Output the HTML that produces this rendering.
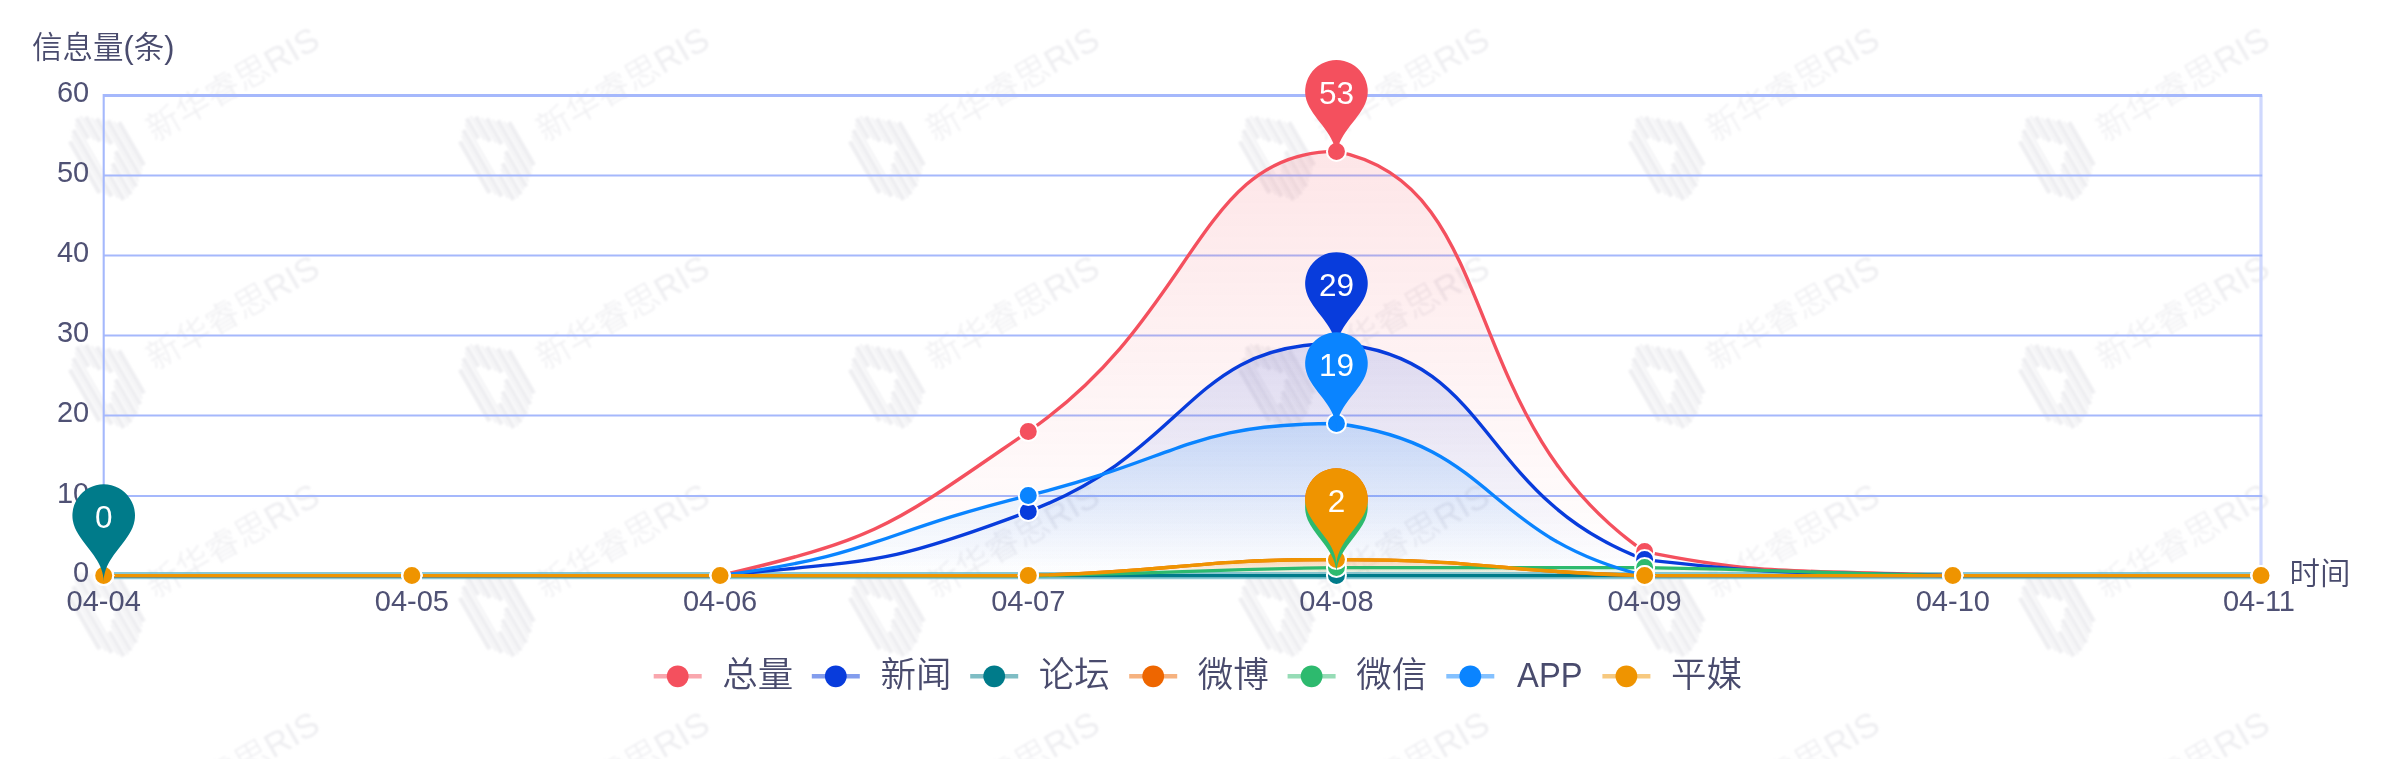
<!DOCTYPE html>
<html lang="zh-CN"><head><meta charset="utf-8"><title>信息量走势</title>
<style>html,body{margin:0;padding:0;background:#fff;overflow:hidden}svg{display:block;filter:blur(0.55px)}text{font-family:'Liberation Sans','Noto Sans CJK SC',sans-serif}.ax{font-size:29px;fill:#4f5174}.nm{font-size:30.5px;font-weight:350;fill:#494b6d}.lg{font-size:35.5px;font-weight:350;fill:#494b6d}.pl{font-size:31.5px;fill:#fff;text-anchor:middle}.wm{font-size:34px;fill:#eeeef1;font-weight:300}</style></head><body>
<svg width="2393" height="759" viewBox="0 0 2393 759">
<rect width="2393" height="759" fill="#fff"/>
<defs>
<linearGradient id="g0" gradientUnits="userSpaceOnUse" x1="0" y1="151.42" x2="0" y2="575.6"><stop offset="0" stop-color="#f4505e" stop-opacity="0.145"/><stop offset="1" stop-color="#f4505e" stop-opacity="0"/></linearGradient>
<linearGradient id="g1" gradientUnits="userSpaceOnUse" x1="0" y1="343.5" x2="0" y2="575.6"><stop offset="0" stop-color="#083cdc" stop-opacity="0.135"/><stop offset="1" stop-color="#083cdc" stop-opacity="0"/></linearGradient>
<linearGradient id="g2" gradientUnits="userSpaceOnUse" x1="0" y1="575.6" x2="0" y2="575.6"><stop offset="0" stop-color="#007b8a" stop-opacity="0.16"/><stop offset="1" stop-color="#007b8a" stop-opacity="0"/></linearGradient>
<linearGradient id="g3" gradientUnits="userSpaceOnUse" x1="0" y1="559.59" x2="0" y2="575.6"><stop offset="0" stop-color="#ee6600" stop-opacity="0.16"/><stop offset="1" stop-color="#ee6600" stop-opacity="0"/></linearGradient>
<linearGradient id="g4" gradientUnits="userSpaceOnUse" x1="0" y1="567.6" x2="0" y2="575.6"><stop offset="0" stop-color="#2dba6e" stop-opacity="0.16"/><stop offset="1" stop-color="#2dba6e" stop-opacity="0"/></linearGradient>
<linearGradient id="g5" gradientUnits="userSpaceOnUse" x1="0" y1="423.54" x2="0" y2="575.6"><stop offset="0" stop-color="#0a84ff" stop-opacity="0.16"/><stop offset="1" stop-color="#0a84ff" stop-opacity="0"/></linearGradient>
<linearGradient id="g6" gradientUnits="userSpaceOnUse" x1="0" y1="559.59" x2="0" y2="575.6"><stop offset="0" stop-color="#ef9400" stop-opacity="0.16"/><stop offset="1" stop-color="#ef9400" stop-opacity="0"/></linearGradient>
<filter id="wb" x="-5%" y="-5%" width="110%" height="110%"><feGaussianBlur stdDeviation="0.9"/></filter>
</defs>
<g id="wm" filter="url(#wb)">
<g transform="translate(-283.5 -71.6) rotate(-30)"><g fill="#eeeef1"><rect x="-26.3" y="-31.36" width="4.6" height="59.32"/><rect x="-20.12" y="-35.73" width="1.5" height="68.5"/><rect x="-17.65" y="-39.54" width="4.6" height="76.49"/><rect x="-11.47" y="-43.92" width="1.5" height="85.67"/><rect x="-9" y="-47.73" width="4.6" height="22.99"/><rect x="-9" y="17.6" width="4.6" height="28.33"/><rect x="-2.82" y="-48.16" width="1.5" height="27.83"/><rect x="-2.82" y="12.93" width="1.5" height="33.58"/><rect x="-0.35" y="-44.84" width="4.6" height="28.33"/><rect x="-0.35" y="8.87" width="4.6" height="35.81"/><rect x="5.83" y="-41.02" width="1.5" height="28.91"/><rect x="5.83" y="4.2" width="1.5" height="38.36"/><rect x="8.3" y="-37.7" width="4.6" height="29.41"/><rect x="8.3" y="0.14" width="4.6" height="40.59"/><rect x="14.48" y="-33.88" width="1.5" height="71.19"/><rect x="16.95" y="-30.56" width="4.6" height="64.3"/><rect x="23.12" y="-26.74" width="1.5" height="56.37"/><rect x="25.6" y="-23.41" width="4.6" height="49.48"/></g><text class="wm" x="49" y="12">新华睿思RIS</text></g>
<g transform="translate(106.5 -71.6) rotate(-30)"><g fill="#eeeef1"><rect x="-26.3" y="-31.36" width="4.6" height="59.32"/><rect x="-20.12" y="-35.73" width="1.5" height="68.5"/><rect x="-17.65" y="-39.54" width="4.6" height="76.49"/><rect x="-11.47" y="-43.92" width="1.5" height="85.67"/><rect x="-9" y="-47.73" width="4.6" height="22.99"/><rect x="-9" y="17.6" width="4.6" height="28.33"/><rect x="-2.82" y="-48.16" width="1.5" height="27.83"/><rect x="-2.82" y="12.93" width="1.5" height="33.58"/><rect x="-0.35" y="-44.84" width="4.6" height="28.33"/><rect x="-0.35" y="8.87" width="4.6" height="35.81"/><rect x="5.83" y="-41.02" width="1.5" height="28.91"/><rect x="5.83" y="4.2" width="1.5" height="38.36"/><rect x="8.3" y="-37.7" width="4.6" height="29.41"/><rect x="8.3" y="0.14" width="4.6" height="40.59"/><rect x="14.48" y="-33.88" width="1.5" height="71.19"/><rect x="16.95" y="-30.56" width="4.6" height="64.3"/><rect x="23.12" y="-26.74" width="1.5" height="56.37"/><rect x="25.6" y="-23.41" width="4.6" height="49.48"/></g><text class="wm" x="49" y="12">新华睿思RIS</text></g>
<g transform="translate(496.5 -71.6) rotate(-30)"><g fill="#eeeef1"><rect x="-26.3" y="-31.36" width="4.6" height="59.32"/><rect x="-20.12" y="-35.73" width="1.5" height="68.5"/><rect x="-17.65" y="-39.54" width="4.6" height="76.49"/><rect x="-11.47" y="-43.92" width="1.5" height="85.67"/><rect x="-9" y="-47.73" width="4.6" height="22.99"/><rect x="-9" y="17.6" width="4.6" height="28.33"/><rect x="-2.82" y="-48.16" width="1.5" height="27.83"/><rect x="-2.82" y="12.93" width="1.5" height="33.58"/><rect x="-0.35" y="-44.84" width="4.6" height="28.33"/><rect x="-0.35" y="8.87" width="4.6" height="35.81"/><rect x="5.83" y="-41.02" width="1.5" height="28.91"/><rect x="5.83" y="4.2" width="1.5" height="38.36"/><rect x="8.3" y="-37.7" width="4.6" height="29.41"/><rect x="8.3" y="0.14" width="4.6" height="40.59"/><rect x="14.48" y="-33.88" width="1.5" height="71.19"/><rect x="16.95" y="-30.56" width="4.6" height="64.3"/><rect x="23.12" y="-26.74" width="1.5" height="56.37"/><rect x="25.6" y="-23.41" width="4.6" height="49.48"/></g><text class="wm" x="49" y="12">新华睿思RIS</text></g>
<g transform="translate(886.5 -71.6) rotate(-30)"><g fill="#eeeef1"><rect x="-26.3" y="-31.36" width="4.6" height="59.32"/><rect x="-20.12" y="-35.73" width="1.5" height="68.5"/><rect x="-17.65" y="-39.54" width="4.6" height="76.49"/><rect x="-11.47" y="-43.92" width="1.5" height="85.67"/><rect x="-9" y="-47.73" width="4.6" height="22.99"/><rect x="-9" y="17.6" width="4.6" height="28.33"/><rect x="-2.82" y="-48.16" width="1.5" height="27.83"/><rect x="-2.82" y="12.93" width="1.5" height="33.58"/><rect x="-0.35" y="-44.84" width="4.6" height="28.33"/><rect x="-0.35" y="8.87" width="4.6" height="35.81"/><rect x="5.83" y="-41.02" width="1.5" height="28.91"/><rect x="5.83" y="4.2" width="1.5" height="38.36"/><rect x="8.3" y="-37.7" width="4.6" height="29.41"/><rect x="8.3" y="0.14" width="4.6" height="40.59"/><rect x="14.48" y="-33.88" width="1.5" height="71.19"/><rect x="16.95" y="-30.56" width="4.6" height="64.3"/><rect x="23.12" y="-26.74" width="1.5" height="56.37"/><rect x="25.6" y="-23.41" width="4.6" height="49.48"/></g><text class="wm" x="49" y="12">新华睿思RIS</text></g>
<g transform="translate(1276.5 -71.6) rotate(-30)"><g fill="#eeeef1"><rect x="-26.3" y="-31.36" width="4.6" height="59.32"/><rect x="-20.12" y="-35.73" width="1.5" height="68.5"/><rect x="-17.65" y="-39.54" width="4.6" height="76.49"/><rect x="-11.47" y="-43.92" width="1.5" height="85.67"/><rect x="-9" y="-47.73" width="4.6" height="22.99"/><rect x="-9" y="17.6" width="4.6" height="28.33"/><rect x="-2.82" y="-48.16" width="1.5" height="27.83"/><rect x="-2.82" y="12.93" width="1.5" height="33.58"/><rect x="-0.35" y="-44.84" width="4.6" height="28.33"/><rect x="-0.35" y="8.87" width="4.6" height="35.81"/><rect x="5.83" y="-41.02" width="1.5" height="28.91"/><rect x="5.83" y="4.2" width="1.5" height="38.36"/><rect x="8.3" y="-37.7" width="4.6" height="29.41"/><rect x="8.3" y="0.14" width="4.6" height="40.59"/><rect x="14.48" y="-33.88" width="1.5" height="71.19"/><rect x="16.95" y="-30.56" width="4.6" height="64.3"/><rect x="23.12" y="-26.74" width="1.5" height="56.37"/><rect x="25.6" y="-23.41" width="4.6" height="49.48"/></g><text class="wm" x="49" y="12">新华睿思RIS</text></g>
<g transform="translate(1666.5 -71.6) rotate(-30)"><g fill="#eeeef1"><rect x="-26.3" y="-31.36" width="4.6" height="59.32"/><rect x="-20.12" y="-35.73" width="1.5" height="68.5"/><rect x="-17.65" y="-39.54" width="4.6" height="76.49"/><rect x="-11.47" y="-43.92" width="1.5" height="85.67"/><rect x="-9" y="-47.73" width="4.6" height="22.99"/><rect x="-9" y="17.6" width="4.6" height="28.33"/><rect x="-2.82" y="-48.16" width="1.5" height="27.83"/><rect x="-2.82" y="12.93" width="1.5" height="33.58"/><rect x="-0.35" y="-44.84" width="4.6" height="28.33"/><rect x="-0.35" y="8.87" width="4.6" height="35.81"/><rect x="5.83" y="-41.02" width="1.5" height="28.91"/><rect x="5.83" y="4.2" width="1.5" height="38.36"/><rect x="8.3" y="-37.7" width="4.6" height="29.41"/><rect x="8.3" y="0.14" width="4.6" height="40.59"/><rect x="14.48" y="-33.88" width="1.5" height="71.19"/><rect x="16.95" y="-30.56" width="4.6" height="64.3"/><rect x="23.12" y="-26.74" width="1.5" height="56.37"/><rect x="25.6" y="-23.41" width="4.6" height="49.48"/></g><text class="wm" x="49" y="12">新华睿思RIS</text></g>
<g transform="translate(2056.5 -71.6) rotate(-30)"><g fill="#eeeef1"><rect x="-26.3" y="-31.36" width="4.6" height="59.32"/><rect x="-20.12" y="-35.73" width="1.5" height="68.5"/><rect x="-17.65" y="-39.54" width="4.6" height="76.49"/><rect x="-11.47" y="-43.92" width="1.5" height="85.67"/><rect x="-9" y="-47.73" width="4.6" height="22.99"/><rect x="-9" y="17.6" width="4.6" height="28.33"/><rect x="-2.82" y="-48.16" width="1.5" height="27.83"/><rect x="-2.82" y="12.93" width="1.5" height="33.58"/><rect x="-0.35" y="-44.84" width="4.6" height="28.33"/><rect x="-0.35" y="8.87" width="4.6" height="35.81"/><rect x="5.83" y="-41.02" width="1.5" height="28.91"/><rect x="5.83" y="4.2" width="1.5" height="38.36"/><rect x="8.3" y="-37.7" width="4.6" height="29.41"/><rect x="8.3" y="0.14" width="4.6" height="40.59"/><rect x="14.48" y="-33.88" width="1.5" height="71.19"/><rect x="16.95" y="-30.56" width="4.6" height="64.3"/><rect x="23.12" y="-26.74" width="1.5" height="56.37"/><rect x="25.6" y="-23.41" width="4.6" height="49.48"/></g><text class="wm" x="49" y="12">新华睿思RIS</text></g>
<g transform="translate(2446.5 -71.6) rotate(-30)"><g fill="#eeeef1"><rect x="-26.3" y="-31.36" width="4.6" height="59.32"/><rect x="-20.12" y="-35.73" width="1.5" height="68.5"/><rect x="-17.65" y="-39.54" width="4.6" height="76.49"/><rect x="-11.47" y="-43.92" width="1.5" height="85.67"/><rect x="-9" y="-47.73" width="4.6" height="22.99"/><rect x="-9" y="17.6" width="4.6" height="28.33"/><rect x="-2.82" y="-48.16" width="1.5" height="27.83"/><rect x="-2.82" y="12.93" width="1.5" height="33.58"/><rect x="-0.35" y="-44.84" width="4.6" height="28.33"/><rect x="-0.35" y="8.87" width="4.6" height="35.81"/><rect x="5.83" y="-41.02" width="1.5" height="28.91"/><rect x="5.83" y="4.2" width="1.5" height="38.36"/><rect x="8.3" y="-37.7" width="4.6" height="29.41"/><rect x="8.3" y="0.14" width="4.6" height="40.59"/><rect x="14.48" y="-33.88" width="1.5" height="71.19"/><rect x="16.95" y="-30.56" width="4.6" height="64.3"/><rect x="23.12" y="-26.74" width="1.5" height="56.37"/><rect x="25.6" y="-23.41" width="4.6" height="49.48"/></g><text class="wm" x="49" y="12">新华睿思RIS</text></g>
<g transform="translate(-283.5 156.6) rotate(-30)"><g fill="#eeeef1"><rect x="-26.3" y="-31.36" width="4.6" height="59.32"/><rect x="-20.12" y="-35.73" width="1.5" height="68.5"/><rect x="-17.65" y="-39.54" width="4.6" height="76.49"/><rect x="-11.47" y="-43.92" width="1.5" height="85.67"/><rect x="-9" y="-47.73" width="4.6" height="22.99"/><rect x="-9" y="17.6" width="4.6" height="28.33"/><rect x="-2.82" y="-48.16" width="1.5" height="27.83"/><rect x="-2.82" y="12.93" width="1.5" height="33.58"/><rect x="-0.35" y="-44.84" width="4.6" height="28.33"/><rect x="-0.35" y="8.87" width="4.6" height="35.81"/><rect x="5.83" y="-41.02" width="1.5" height="28.91"/><rect x="5.83" y="4.2" width="1.5" height="38.36"/><rect x="8.3" y="-37.7" width="4.6" height="29.41"/><rect x="8.3" y="0.14" width="4.6" height="40.59"/><rect x="14.48" y="-33.88" width="1.5" height="71.19"/><rect x="16.95" y="-30.56" width="4.6" height="64.3"/><rect x="23.12" y="-26.74" width="1.5" height="56.37"/><rect x="25.6" y="-23.41" width="4.6" height="49.48"/></g><text class="wm" x="49" y="12">新华睿思RIS</text></g>
<g transform="translate(106.5 156.6) rotate(-30)"><g fill="#eeeef1"><rect x="-26.3" y="-31.36" width="4.6" height="59.32"/><rect x="-20.12" y="-35.73" width="1.5" height="68.5"/><rect x="-17.65" y="-39.54" width="4.6" height="76.49"/><rect x="-11.47" y="-43.92" width="1.5" height="85.67"/><rect x="-9" y="-47.73" width="4.6" height="22.99"/><rect x="-9" y="17.6" width="4.6" height="28.33"/><rect x="-2.82" y="-48.16" width="1.5" height="27.83"/><rect x="-2.82" y="12.93" width="1.5" height="33.58"/><rect x="-0.35" y="-44.84" width="4.6" height="28.33"/><rect x="-0.35" y="8.87" width="4.6" height="35.81"/><rect x="5.83" y="-41.02" width="1.5" height="28.91"/><rect x="5.83" y="4.2" width="1.5" height="38.36"/><rect x="8.3" y="-37.7" width="4.6" height="29.41"/><rect x="8.3" y="0.14" width="4.6" height="40.59"/><rect x="14.48" y="-33.88" width="1.5" height="71.19"/><rect x="16.95" y="-30.56" width="4.6" height="64.3"/><rect x="23.12" y="-26.74" width="1.5" height="56.37"/><rect x="25.6" y="-23.41" width="4.6" height="49.48"/></g><text class="wm" x="49" y="12">新华睿思RIS</text></g>
<g transform="translate(496.5 156.6) rotate(-30)"><g fill="#eeeef1"><rect x="-26.3" y="-31.36" width="4.6" height="59.32"/><rect x="-20.12" y="-35.73" width="1.5" height="68.5"/><rect x="-17.65" y="-39.54" width="4.6" height="76.49"/><rect x="-11.47" y="-43.92" width="1.5" height="85.67"/><rect x="-9" y="-47.73" width="4.6" height="22.99"/><rect x="-9" y="17.6" width="4.6" height="28.33"/><rect x="-2.82" y="-48.16" width="1.5" height="27.83"/><rect x="-2.82" y="12.93" width="1.5" height="33.58"/><rect x="-0.35" y="-44.84" width="4.6" height="28.33"/><rect x="-0.35" y="8.87" width="4.6" height="35.81"/><rect x="5.83" y="-41.02" width="1.5" height="28.91"/><rect x="5.83" y="4.2" width="1.5" height="38.36"/><rect x="8.3" y="-37.7" width="4.6" height="29.41"/><rect x="8.3" y="0.14" width="4.6" height="40.59"/><rect x="14.48" y="-33.88" width="1.5" height="71.19"/><rect x="16.95" y="-30.56" width="4.6" height="64.3"/><rect x="23.12" y="-26.74" width="1.5" height="56.37"/><rect x="25.6" y="-23.41" width="4.6" height="49.48"/></g><text class="wm" x="49" y="12">新华睿思RIS</text></g>
<g transform="translate(886.5 156.6) rotate(-30)"><g fill="#eeeef1"><rect x="-26.3" y="-31.36" width="4.6" height="59.32"/><rect x="-20.12" y="-35.73" width="1.5" height="68.5"/><rect x="-17.65" y="-39.54" width="4.6" height="76.49"/><rect x="-11.47" y="-43.92" width="1.5" height="85.67"/><rect x="-9" y="-47.73" width="4.6" height="22.99"/><rect x="-9" y="17.6" width="4.6" height="28.33"/><rect x="-2.82" y="-48.16" width="1.5" height="27.83"/><rect x="-2.82" y="12.93" width="1.5" height="33.58"/><rect x="-0.35" y="-44.84" width="4.6" height="28.33"/><rect x="-0.35" y="8.87" width="4.6" height="35.81"/><rect x="5.83" y="-41.02" width="1.5" height="28.91"/><rect x="5.83" y="4.2" width="1.5" height="38.36"/><rect x="8.3" y="-37.7" width="4.6" height="29.41"/><rect x="8.3" y="0.14" width="4.6" height="40.59"/><rect x="14.48" y="-33.88" width="1.5" height="71.19"/><rect x="16.95" y="-30.56" width="4.6" height="64.3"/><rect x="23.12" y="-26.74" width="1.5" height="56.37"/><rect x="25.6" y="-23.41" width="4.6" height="49.48"/></g><text class="wm" x="49" y="12">新华睿思RIS</text></g>
<g transform="translate(1276.5 156.6) rotate(-30)"><g fill="#eeeef1"><rect x="-26.3" y="-31.36" width="4.6" height="59.32"/><rect x="-20.12" y="-35.73" width="1.5" height="68.5"/><rect x="-17.65" y="-39.54" width="4.6" height="76.49"/><rect x="-11.47" y="-43.92" width="1.5" height="85.67"/><rect x="-9" y="-47.73" width="4.6" height="22.99"/><rect x="-9" y="17.6" width="4.6" height="28.33"/><rect x="-2.82" y="-48.16" width="1.5" height="27.83"/><rect x="-2.82" y="12.93" width="1.5" height="33.58"/><rect x="-0.35" y="-44.84" width="4.6" height="28.33"/><rect x="-0.35" y="8.87" width="4.6" height="35.81"/><rect x="5.83" y="-41.02" width="1.5" height="28.91"/><rect x="5.83" y="4.2" width="1.5" height="38.36"/><rect x="8.3" y="-37.7" width="4.6" height="29.41"/><rect x="8.3" y="0.14" width="4.6" height="40.59"/><rect x="14.48" y="-33.88" width="1.5" height="71.19"/><rect x="16.95" y="-30.56" width="4.6" height="64.3"/><rect x="23.12" y="-26.74" width="1.5" height="56.37"/><rect x="25.6" y="-23.41" width="4.6" height="49.48"/></g><text class="wm" x="49" y="12">新华睿思RIS</text></g>
<g transform="translate(1666.5 156.6) rotate(-30)"><g fill="#eeeef1"><rect x="-26.3" y="-31.36" width="4.6" height="59.32"/><rect x="-20.12" y="-35.73" width="1.5" height="68.5"/><rect x="-17.65" y="-39.54" width="4.6" height="76.49"/><rect x="-11.47" y="-43.92" width="1.5" height="85.67"/><rect x="-9" y="-47.73" width="4.6" height="22.99"/><rect x="-9" y="17.6" width="4.6" height="28.33"/><rect x="-2.82" y="-48.16" width="1.5" height="27.83"/><rect x="-2.82" y="12.93" width="1.5" height="33.58"/><rect x="-0.35" y="-44.84" width="4.6" height="28.33"/><rect x="-0.35" y="8.87" width="4.6" height="35.81"/><rect x="5.83" y="-41.02" width="1.5" height="28.91"/><rect x="5.83" y="4.2" width="1.5" height="38.36"/><rect x="8.3" y="-37.7" width="4.6" height="29.41"/><rect x="8.3" y="0.14" width="4.6" height="40.59"/><rect x="14.48" y="-33.88" width="1.5" height="71.19"/><rect x="16.95" y="-30.56" width="4.6" height="64.3"/><rect x="23.12" y="-26.74" width="1.5" height="56.37"/><rect x="25.6" y="-23.41" width="4.6" height="49.48"/></g><text class="wm" x="49" y="12">新华睿思RIS</text></g>
<g transform="translate(2056.5 156.6) rotate(-30)"><g fill="#eeeef1"><rect x="-26.3" y="-31.36" width="4.6" height="59.32"/><rect x="-20.12" y="-35.73" width="1.5" height="68.5"/><rect x="-17.65" y="-39.54" width="4.6" height="76.49"/><rect x="-11.47" y="-43.92" width="1.5" height="85.67"/><rect x="-9" y="-47.73" width="4.6" height="22.99"/><rect x="-9" y="17.6" width="4.6" height="28.33"/><rect x="-2.82" y="-48.16" width="1.5" height="27.83"/><rect x="-2.82" y="12.93" width="1.5" height="33.58"/><rect x="-0.35" y="-44.84" width="4.6" height="28.33"/><rect x="-0.35" y="8.87" width="4.6" height="35.81"/><rect x="5.83" y="-41.02" width="1.5" height="28.91"/><rect x="5.83" y="4.2" width="1.5" height="38.36"/><rect x="8.3" y="-37.7" width="4.6" height="29.41"/><rect x="8.3" y="0.14" width="4.6" height="40.59"/><rect x="14.48" y="-33.88" width="1.5" height="71.19"/><rect x="16.95" y="-30.56" width="4.6" height="64.3"/><rect x="23.12" y="-26.74" width="1.5" height="56.37"/><rect x="25.6" y="-23.41" width="4.6" height="49.48"/></g><text class="wm" x="49" y="12">新华睿思RIS</text></g>
<g transform="translate(2446.5 156.6) rotate(-30)"><g fill="#eeeef1"><rect x="-26.3" y="-31.36" width="4.6" height="59.32"/><rect x="-20.12" y="-35.73" width="1.5" height="68.5"/><rect x="-17.65" y="-39.54" width="4.6" height="76.49"/><rect x="-11.47" y="-43.92" width="1.5" height="85.67"/><rect x="-9" y="-47.73" width="4.6" height="22.99"/><rect x="-9" y="17.6" width="4.6" height="28.33"/><rect x="-2.82" y="-48.16" width="1.5" height="27.83"/><rect x="-2.82" y="12.93" width="1.5" height="33.58"/><rect x="-0.35" y="-44.84" width="4.6" height="28.33"/><rect x="-0.35" y="8.87" width="4.6" height="35.81"/><rect x="5.83" y="-41.02" width="1.5" height="28.91"/><rect x="5.83" y="4.2" width="1.5" height="38.36"/><rect x="8.3" y="-37.7" width="4.6" height="29.41"/><rect x="8.3" y="0.14" width="4.6" height="40.59"/><rect x="14.48" y="-33.88" width="1.5" height="71.19"/><rect x="16.95" y="-30.56" width="4.6" height="64.3"/><rect x="23.12" y="-26.74" width="1.5" height="56.37"/><rect x="25.6" y="-23.41" width="4.6" height="49.48"/></g><text class="wm" x="49" y="12">新华睿思RIS</text></g>
<g transform="translate(-283.5 384.8) rotate(-30)"><g fill="#eeeef1"><rect x="-26.3" y="-31.36" width="4.6" height="59.32"/><rect x="-20.12" y="-35.73" width="1.5" height="68.5"/><rect x="-17.65" y="-39.54" width="4.6" height="76.49"/><rect x="-11.47" y="-43.92" width="1.5" height="85.67"/><rect x="-9" y="-47.73" width="4.6" height="22.99"/><rect x="-9" y="17.6" width="4.6" height="28.33"/><rect x="-2.82" y="-48.16" width="1.5" height="27.83"/><rect x="-2.82" y="12.93" width="1.5" height="33.58"/><rect x="-0.35" y="-44.84" width="4.6" height="28.33"/><rect x="-0.35" y="8.87" width="4.6" height="35.81"/><rect x="5.83" y="-41.02" width="1.5" height="28.91"/><rect x="5.83" y="4.2" width="1.5" height="38.36"/><rect x="8.3" y="-37.7" width="4.6" height="29.41"/><rect x="8.3" y="0.14" width="4.6" height="40.59"/><rect x="14.48" y="-33.88" width="1.5" height="71.19"/><rect x="16.95" y="-30.56" width="4.6" height="64.3"/><rect x="23.12" y="-26.74" width="1.5" height="56.37"/><rect x="25.6" y="-23.41" width="4.6" height="49.48"/></g><text class="wm" x="49" y="12">新华睿思RIS</text></g>
<g transform="translate(106.5 384.8) rotate(-30)"><g fill="#eeeef1"><rect x="-26.3" y="-31.36" width="4.6" height="59.32"/><rect x="-20.12" y="-35.73" width="1.5" height="68.5"/><rect x="-17.65" y="-39.54" width="4.6" height="76.49"/><rect x="-11.47" y="-43.92" width="1.5" height="85.67"/><rect x="-9" y="-47.73" width="4.6" height="22.99"/><rect x="-9" y="17.6" width="4.6" height="28.33"/><rect x="-2.82" y="-48.16" width="1.5" height="27.83"/><rect x="-2.82" y="12.93" width="1.5" height="33.58"/><rect x="-0.35" y="-44.84" width="4.6" height="28.33"/><rect x="-0.35" y="8.87" width="4.6" height="35.81"/><rect x="5.83" y="-41.02" width="1.5" height="28.91"/><rect x="5.83" y="4.2" width="1.5" height="38.36"/><rect x="8.3" y="-37.7" width="4.6" height="29.41"/><rect x="8.3" y="0.14" width="4.6" height="40.59"/><rect x="14.48" y="-33.88" width="1.5" height="71.19"/><rect x="16.95" y="-30.56" width="4.6" height="64.3"/><rect x="23.12" y="-26.74" width="1.5" height="56.37"/><rect x="25.6" y="-23.41" width="4.6" height="49.48"/></g><text class="wm" x="49" y="12">新华睿思RIS</text></g>
<g transform="translate(496.5 384.8) rotate(-30)"><g fill="#eeeef1"><rect x="-26.3" y="-31.36" width="4.6" height="59.32"/><rect x="-20.12" y="-35.73" width="1.5" height="68.5"/><rect x="-17.65" y="-39.54" width="4.6" height="76.49"/><rect x="-11.47" y="-43.92" width="1.5" height="85.67"/><rect x="-9" y="-47.73" width="4.6" height="22.99"/><rect x="-9" y="17.6" width="4.6" height="28.33"/><rect x="-2.82" y="-48.16" width="1.5" height="27.83"/><rect x="-2.82" y="12.93" width="1.5" height="33.58"/><rect x="-0.35" y="-44.84" width="4.6" height="28.33"/><rect x="-0.35" y="8.87" width="4.6" height="35.81"/><rect x="5.83" y="-41.02" width="1.5" height="28.91"/><rect x="5.83" y="4.2" width="1.5" height="38.36"/><rect x="8.3" y="-37.7" width="4.6" height="29.41"/><rect x="8.3" y="0.14" width="4.6" height="40.59"/><rect x="14.48" y="-33.88" width="1.5" height="71.19"/><rect x="16.95" y="-30.56" width="4.6" height="64.3"/><rect x="23.12" y="-26.74" width="1.5" height="56.37"/><rect x="25.6" y="-23.41" width="4.6" height="49.48"/></g><text class="wm" x="49" y="12">新华睿思RIS</text></g>
<g transform="translate(886.5 384.8) rotate(-30)"><g fill="#eeeef1"><rect x="-26.3" y="-31.36" width="4.6" height="59.32"/><rect x="-20.12" y="-35.73" width="1.5" height="68.5"/><rect x="-17.65" y="-39.54" width="4.6" height="76.49"/><rect x="-11.47" y="-43.92" width="1.5" height="85.67"/><rect x="-9" y="-47.73" width="4.6" height="22.99"/><rect x="-9" y="17.6" width="4.6" height="28.33"/><rect x="-2.82" y="-48.16" width="1.5" height="27.83"/><rect x="-2.82" y="12.93" width="1.5" height="33.58"/><rect x="-0.35" y="-44.84" width="4.6" height="28.33"/><rect x="-0.35" y="8.87" width="4.6" height="35.81"/><rect x="5.83" y="-41.02" width="1.5" height="28.91"/><rect x="5.83" y="4.2" width="1.5" height="38.36"/><rect x="8.3" y="-37.7" width="4.6" height="29.41"/><rect x="8.3" y="0.14" width="4.6" height="40.59"/><rect x="14.48" y="-33.88" width="1.5" height="71.19"/><rect x="16.95" y="-30.56" width="4.6" height="64.3"/><rect x="23.12" y="-26.74" width="1.5" height="56.37"/><rect x="25.6" y="-23.41" width="4.6" height="49.48"/></g><text class="wm" x="49" y="12">新华睿思RIS</text></g>
<g transform="translate(1276.5 384.8) rotate(-30)"><g fill="#eeeef1"><rect x="-26.3" y="-31.36" width="4.6" height="59.32"/><rect x="-20.12" y="-35.73" width="1.5" height="68.5"/><rect x="-17.65" y="-39.54" width="4.6" height="76.49"/><rect x="-11.47" y="-43.92" width="1.5" height="85.67"/><rect x="-9" y="-47.73" width="4.6" height="22.99"/><rect x="-9" y="17.6" width="4.6" height="28.33"/><rect x="-2.82" y="-48.16" width="1.5" height="27.83"/><rect x="-2.82" y="12.93" width="1.5" height="33.58"/><rect x="-0.35" y="-44.84" width="4.6" height="28.33"/><rect x="-0.35" y="8.87" width="4.6" height="35.81"/><rect x="5.83" y="-41.02" width="1.5" height="28.91"/><rect x="5.83" y="4.2" width="1.5" height="38.36"/><rect x="8.3" y="-37.7" width="4.6" height="29.41"/><rect x="8.3" y="0.14" width="4.6" height="40.59"/><rect x="14.48" y="-33.88" width="1.5" height="71.19"/><rect x="16.95" y="-30.56" width="4.6" height="64.3"/><rect x="23.12" y="-26.74" width="1.5" height="56.37"/><rect x="25.6" y="-23.41" width="4.6" height="49.48"/></g><text class="wm" x="49" y="12">新华睿思RIS</text></g>
<g transform="translate(1666.5 384.8) rotate(-30)"><g fill="#eeeef1"><rect x="-26.3" y="-31.36" width="4.6" height="59.32"/><rect x="-20.12" y="-35.73" width="1.5" height="68.5"/><rect x="-17.65" y="-39.54" width="4.6" height="76.49"/><rect x="-11.47" y="-43.92" width="1.5" height="85.67"/><rect x="-9" y="-47.73" width="4.6" height="22.99"/><rect x="-9" y="17.6" width="4.6" height="28.33"/><rect x="-2.82" y="-48.16" width="1.5" height="27.83"/><rect x="-2.82" y="12.93" width="1.5" height="33.58"/><rect x="-0.35" y="-44.84" width="4.6" height="28.33"/><rect x="-0.35" y="8.87" width="4.6" height="35.81"/><rect x="5.83" y="-41.02" width="1.5" height="28.91"/><rect x="5.83" y="4.2" width="1.5" height="38.36"/><rect x="8.3" y="-37.7" width="4.6" height="29.41"/><rect x="8.3" y="0.14" width="4.6" height="40.59"/><rect x="14.48" y="-33.88" width="1.5" height="71.19"/><rect x="16.95" y="-30.56" width="4.6" height="64.3"/><rect x="23.12" y="-26.74" width="1.5" height="56.37"/><rect x="25.6" y="-23.41" width="4.6" height="49.48"/></g><text class="wm" x="49" y="12">新华睿思RIS</text></g>
<g transform="translate(2056.5 384.8) rotate(-30)"><g fill="#eeeef1"><rect x="-26.3" y="-31.36" width="4.6" height="59.32"/><rect x="-20.12" y="-35.73" width="1.5" height="68.5"/><rect x="-17.65" y="-39.54" width="4.6" height="76.49"/><rect x="-11.47" y="-43.92" width="1.5" height="85.67"/><rect x="-9" y="-47.73" width="4.6" height="22.99"/><rect x="-9" y="17.6" width="4.6" height="28.33"/><rect x="-2.82" y="-48.16" width="1.5" height="27.83"/><rect x="-2.82" y="12.93" width="1.5" height="33.58"/><rect x="-0.35" y="-44.84" width="4.6" height="28.33"/><rect x="-0.35" y="8.87" width="4.6" height="35.81"/><rect x="5.83" y="-41.02" width="1.5" height="28.91"/><rect x="5.83" y="4.2" width="1.5" height="38.36"/><rect x="8.3" y="-37.7" width="4.6" height="29.41"/><rect x="8.3" y="0.14" width="4.6" height="40.59"/><rect x="14.48" y="-33.88" width="1.5" height="71.19"/><rect x="16.95" y="-30.56" width="4.6" height="64.3"/><rect x="23.12" y="-26.74" width="1.5" height="56.37"/><rect x="25.6" y="-23.41" width="4.6" height="49.48"/></g><text class="wm" x="49" y="12">新华睿思RIS</text></g>
<g transform="translate(2446.5 384.8) rotate(-30)"><g fill="#eeeef1"><rect x="-26.3" y="-31.36" width="4.6" height="59.32"/><rect x="-20.12" y="-35.73" width="1.5" height="68.5"/><rect x="-17.65" y="-39.54" width="4.6" height="76.49"/><rect x="-11.47" y="-43.92" width="1.5" height="85.67"/><rect x="-9" y="-47.73" width="4.6" height="22.99"/><rect x="-9" y="17.6" width="4.6" height="28.33"/><rect x="-2.82" y="-48.16" width="1.5" height="27.83"/><rect x="-2.82" y="12.93" width="1.5" height="33.58"/><rect x="-0.35" y="-44.84" width="4.6" height="28.33"/><rect x="-0.35" y="8.87" width="4.6" height="35.81"/><rect x="5.83" y="-41.02" width="1.5" height="28.91"/><rect x="5.83" y="4.2" width="1.5" height="38.36"/><rect x="8.3" y="-37.7" width="4.6" height="29.41"/><rect x="8.3" y="0.14" width="4.6" height="40.59"/><rect x="14.48" y="-33.88" width="1.5" height="71.19"/><rect x="16.95" y="-30.56" width="4.6" height="64.3"/><rect x="23.12" y="-26.74" width="1.5" height="56.37"/><rect x="25.6" y="-23.41" width="4.6" height="49.48"/></g><text class="wm" x="49" y="12">新华睿思RIS</text></g>
<g transform="translate(-283.5 613) rotate(-30)"><g fill="#eeeef1"><rect x="-26.3" y="-31.36" width="4.6" height="59.32"/><rect x="-20.12" y="-35.73" width="1.5" height="68.5"/><rect x="-17.65" y="-39.54" width="4.6" height="76.49"/><rect x="-11.47" y="-43.92" width="1.5" height="85.67"/><rect x="-9" y="-47.73" width="4.6" height="22.99"/><rect x="-9" y="17.6" width="4.6" height="28.33"/><rect x="-2.82" y="-48.16" width="1.5" height="27.83"/><rect x="-2.82" y="12.93" width="1.5" height="33.58"/><rect x="-0.35" y="-44.84" width="4.6" height="28.33"/><rect x="-0.35" y="8.87" width="4.6" height="35.81"/><rect x="5.83" y="-41.02" width="1.5" height="28.91"/><rect x="5.83" y="4.2" width="1.5" height="38.36"/><rect x="8.3" y="-37.7" width="4.6" height="29.41"/><rect x="8.3" y="0.14" width="4.6" height="40.59"/><rect x="14.48" y="-33.88" width="1.5" height="71.19"/><rect x="16.95" y="-30.56" width="4.6" height="64.3"/><rect x="23.12" y="-26.74" width="1.5" height="56.37"/><rect x="25.6" y="-23.41" width="4.6" height="49.48"/></g><text class="wm" x="49" y="12">新华睿思RIS</text></g>
<g transform="translate(106.5 613) rotate(-30)"><g fill="#eeeef1"><rect x="-26.3" y="-31.36" width="4.6" height="59.32"/><rect x="-20.12" y="-35.73" width="1.5" height="68.5"/><rect x="-17.65" y="-39.54" width="4.6" height="76.49"/><rect x="-11.47" y="-43.92" width="1.5" height="85.67"/><rect x="-9" y="-47.73" width="4.6" height="22.99"/><rect x="-9" y="17.6" width="4.6" height="28.33"/><rect x="-2.82" y="-48.16" width="1.5" height="27.83"/><rect x="-2.82" y="12.93" width="1.5" height="33.58"/><rect x="-0.35" y="-44.84" width="4.6" height="28.33"/><rect x="-0.35" y="8.87" width="4.6" height="35.81"/><rect x="5.83" y="-41.02" width="1.5" height="28.91"/><rect x="5.83" y="4.2" width="1.5" height="38.36"/><rect x="8.3" y="-37.7" width="4.6" height="29.41"/><rect x="8.3" y="0.14" width="4.6" height="40.59"/><rect x="14.48" y="-33.88" width="1.5" height="71.19"/><rect x="16.95" y="-30.56" width="4.6" height="64.3"/><rect x="23.12" y="-26.74" width="1.5" height="56.37"/><rect x="25.6" y="-23.41" width="4.6" height="49.48"/></g><text class="wm" x="49" y="12">新华睿思RIS</text></g>
<g transform="translate(496.5 613) rotate(-30)"><g fill="#eeeef1"><rect x="-26.3" y="-31.36" width="4.6" height="59.32"/><rect x="-20.12" y="-35.73" width="1.5" height="68.5"/><rect x="-17.65" y="-39.54" width="4.6" height="76.49"/><rect x="-11.47" y="-43.92" width="1.5" height="85.67"/><rect x="-9" y="-47.73" width="4.6" height="22.99"/><rect x="-9" y="17.6" width="4.6" height="28.33"/><rect x="-2.82" y="-48.16" width="1.5" height="27.83"/><rect x="-2.82" y="12.93" width="1.5" height="33.58"/><rect x="-0.35" y="-44.84" width="4.6" height="28.33"/><rect x="-0.35" y="8.87" width="4.6" height="35.81"/><rect x="5.83" y="-41.02" width="1.5" height="28.91"/><rect x="5.83" y="4.2" width="1.5" height="38.36"/><rect x="8.3" y="-37.7" width="4.6" height="29.41"/><rect x="8.3" y="0.14" width="4.6" height="40.59"/><rect x="14.48" y="-33.88" width="1.5" height="71.19"/><rect x="16.95" y="-30.56" width="4.6" height="64.3"/><rect x="23.12" y="-26.74" width="1.5" height="56.37"/><rect x="25.6" y="-23.41" width="4.6" height="49.48"/></g><text class="wm" x="49" y="12">新华睿思RIS</text></g>
<g transform="translate(886.5 613) rotate(-30)"><g fill="#eeeef1"><rect x="-26.3" y="-31.36" width="4.6" height="59.32"/><rect x="-20.12" y="-35.73" width="1.5" height="68.5"/><rect x="-17.65" y="-39.54" width="4.6" height="76.49"/><rect x="-11.47" y="-43.92" width="1.5" height="85.67"/><rect x="-9" y="-47.73" width="4.6" height="22.99"/><rect x="-9" y="17.6" width="4.6" height="28.33"/><rect x="-2.82" y="-48.16" width="1.5" height="27.83"/><rect x="-2.82" y="12.93" width="1.5" height="33.58"/><rect x="-0.35" y="-44.84" width="4.6" height="28.33"/><rect x="-0.35" y="8.87" width="4.6" height="35.81"/><rect x="5.83" y="-41.02" width="1.5" height="28.91"/><rect x="5.83" y="4.2" width="1.5" height="38.36"/><rect x="8.3" y="-37.7" width="4.6" height="29.41"/><rect x="8.3" y="0.14" width="4.6" height="40.59"/><rect x="14.48" y="-33.88" width="1.5" height="71.19"/><rect x="16.95" y="-30.56" width="4.6" height="64.3"/><rect x="23.12" y="-26.74" width="1.5" height="56.37"/><rect x="25.6" y="-23.41" width="4.6" height="49.48"/></g><text class="wm" x="49" y="12">新华睿思RIS</text></g>
<g transform="translate(1276.5 613) rotate(-30)"><g fill="#eeeef1"><rect x="-26.3" y="-31.36" width="4.6" height="59.32"/><rect x="-20.12" y="-35.73" width="1.5" height="68.5"/><rect x="-17.65" y="-39.54" width="4.6" height="76.49"/><rect x="-11.47" y="-43.92" width="1.5" height="85.67"/><rect x="-9" y="-47.73" width="4.6" height="22.99"/><rect x="-9" y="17.6" width="4.6" height="28.33"/><rect x="-2.82" y="-48.16" width="1.5" height="27.83"/><rect x="-2.82" y="12.93" width="1.5" height="33.58"/><rect x="-0.35" y="-44.84" width="4.6" height="28.33"/><rect x="-0.35" y="8.87" width="4.6" height="35.81"/><rect x="5.83" y="-41.02" width="1.5" height="28.91"/><rect x="5.83" y="4.2" width="1.5" height="38.36"/><rect x="8.3" y="-37.7" width="4.6" height="29.41"/><rect x="8.3" y="0.14" width="4.6" height="40.59"/><rect x="14.48" y="-33.88" width="1.5" height="71.19"/><rect x="16.95" y="-30.56" width="4.6" height="64.3"/><rect x="23.12" y="-26.74" width="1.5" height="56.37"/><rect x="25.6" y="-23.41" width="4.6" height="49.48"/></g><text class="wm" x="49" y="12">新华睿思RIS</text></g>
<g transform="translate(1666.5 613) rotate(-30)"><g fill="#eeeef1"><rect x="-26.3" y="-31.36" width="4.6" height="59.32"/><rect x="-20.12" y="-35.73" width="1.5" height="68.5"/><rect x="-17.65" y="-39.54" width="4.6" height="76.49"/><rect x="-11.47" y="-43.92" width="1.5" height="85.67"/><rect x="-9" y="-47.73" width="4.6" height="22.99"/><rect x="-9" y="17.6" width="4.6" height="28.33"/><rect x="-2.82" y="-48.16" width="1.5" height="27.83"/><rect x="-2.82" y="12.93" width="1.5" height="33.58"/><rect x="-0.35" y="-44.84" width="4.6" height="28.33"/><rect x="-0.35" y="8.87" width="4.6" height="35.81"/><rect x="5.83" y="-41.02" width="1.5" height="28.91"/><rect x="5.83" y="4.2" width="1.5" height="38.36"/><rect x="8.3" y="-37.7" width="4.6" height="29.41"/><rect x="8.3" y="0.14" width="4.6" height="40.59"/><rect x="14.48" y="-33.88" width="1.5" height="71.19"/><rect x="16.95" y="-30.56" width="4.6" height="64.3"/><rect x="23.12" y="-26.74" width="1.5" height="56.37"/><rect x="25.6" y="-23.41" width="4.6" height="49.48"/></g><text class="wm" x="49" y="12">新华睿思RIS</text></g>
<g transform="translate(2056.5 613) rotate(-30)"><g fill="#eeeef1"><rect x="-26.3" y="-31.36" width="4.6" height="59.32"/><rect x="-20.12" y="-35.73" width="1.5" height="68.5"/><rect x="-17.65" y="-39.54" width="4.6" height="76.49"/><rect x="-11.47" y="-43.92" width="1.5" height="85.67"/><rect x="-9" y="-47.73" width="4.6" height="22.99"/><rect x="-9" y="17.6" width="4.6" height="28.33"/><rect x="-2.82" y="-48.16" width="1.5" height="27.83"/><rect x="-2.82" y="12.93" width="1.5" height="33.58"/><rect x="-0.35" y="-44.84" width="4.6" height="28.33"/><rect x="-0.35" y="8.87" width="4.6" height="35.81"/><rect x="5.83" y="-41.02" width="1.5" height="28.91"/><rect x="5.83" y="4.2" width="1.5" height="38.36"/><rect x="8.3" y="-37.7" width="4.6" height="29.41"/><rect x="8.3" y="0.14" width="4.6" height="40.59"/><rect x="14.48" y="-33.88" width="1.5" height="71.19"/><rect x="16.95" y="-30.56" width="4.6" height="64.3"/><rect x="23.12" y="-26.74" width="1.5" height="56.37"/><rect x="25.6" y="-23.41" width="4.6" height="49.48"/></g><text class="wm" x="49" y="12">新华睿思RIS</text></g>
<g transform="translate(2446.5 613) rotate(-30)"><g fill="#eeeef1"><rect x="-26.3" y="-31.36" width="4.6" height="59.32"/><rect x="-20.12" y="-35.73" width="1.5" height="68.5"/><rect x="-17.65" y="-39.54" width="4.6" height="76.49"/><rect x="-11.47" y="-43.92" width="1.5" height="85.67"/><rect x="-9" y="-47.73" width="4.6" height="22.99"/><rect x="-9" y="17.6" width="4.6" height="28.33"/><rect x="-2.82" y="-48.16" width="1.5" height="27.83"/><rect x="-2.82" y="12.93" width="1.5" height="33.58"/><rect x="-0.35" y="-44.84" width="4.6" height="28.33"/><rect x="-0.35" y="8.87" width="4.6" height="35.81"/><rect x="5.83" y="-41.02" width="1.5" height="28.91"/><rect x="5.83" y="4.2" width="1.5" height="38.36"/><rect x="8.3" y="-37.7" width="4.6" height="29.41"/><rect x="8.3" y="0.14" width="4.6" height="40.59"/><rect x="14.48" y="-33.88" width="1.5" height="71.19"/><rect x="16.95" y="-30.56" width="4.6" height="64.3"/><rect x="23.12" y="-26.74" width="1.5" height="56.37"/><rect x="25.6" y="-23.41" width="4.6" height="49.48"/></g><text class="wm" x="49" y="12">新华睿思RIS</text></g>
<g transform="translate(-283.5 841.2) rotate(-30)"><g fill="#eeeef1"><rect x="-26.3" y="-31.36" width="4.6" height="59.32"/><rect x="-20.12" y="-35.73" width="1.5" height="68.5"/><rect x="-17.65" y="-39.54" width="4.6" height="76.49"/><rect x="-11.47" y="-43.92" width="1.5" height="85.67"/><rect x="-9" y="-47.73" width="4.6" height="22.99"/><rect x="-9" y="17.6" width="4.6" height="28.33"/><rect x="-2.82" y="-48.16" width="1.5" height="27.83"/><rect x="-2.82" y="12.93" width="1.5" height="33.58"/><rect x="-0.35" y="-44.84" width="4.6" height="28.33"/><rect x="-0.35" y="8.87" width="4.6" height="35.81"/><rect x="5.83" y="-41.02" width="1.5" height="28.91"/><rect x="5.83" y="4.2" width="1.5" height="38.36"/><rect x="8.3" y="-37.7" width="4.6" height="29.41"/><rect x="8.3" y="0.14" width="4.6" height="40.59"/><rect x="14.48" y="-33.88" width="1.5" height="71.19"/><rect x="16.95" y="-30.56" width="4.6" height="64.3"/><rect x="23.12" y="-26.74" width="1.5" height="56.37"/><rect x="25.6" y="-23.41" width="4.6" height="49.48"/></g><text class="wm" x="49" y="12">新华睿思RIS</text></g>
<g transform="translate(106.5 841.2) rotate(-30)"><g fill="#eeeef1"><rect x="-26.3" y="-31.36" width="4.6" height="59.32"/><rect x="-20.12" y="-35.73" width="1.5" height="68.5"/><rect x="-17.65" y="-39.54" width="4.6" height="76.49"/><rect x="-11.47" y="-43.92" width="1.5" height="85.67"/><rect x="-9" y="-47.73" width="4.6" height="22.99"/><rect x="-9" y="17.6" width="4.6" height="28.33"/><rect x="-2.82" y="-48.16" width="1.5" height="27.83"/><rect x="-2.82" y="12.93" width="1.5" height="33.58"/><rect x="-0.35" y="-44.84" width="4.6" height="28.33"/><rect x="-0.35" y="8.87" width="4.6" height="35.81"/><rect x="5.83" y="-41.02" width="1.5" height="28.91"/><rect x="5.83" y="4.2" width="1.5" height="38.36"/><rect x="8.3" y="-37.7" width="4.6" height="29.41"/><rect x="8.3" y="0.14" width="4.6" height="40.59"/><rect x="14.48" y="-33.88" width="1.5" height="71.19"/><rect x="16.95" y="-30.56" width="4.6" height="64.3"/><rect x="23.12" y="-26.74" width="1.5" height="56.37"/><rect x="25.6" y="-23.41" width="4.6" height="49.48"/></g><text class="wm" x="49" y="12">新华睿思RIS</text></g>
<g transform="translate(496.5 841.2) rotate(-30)"><g fill="#eeeef1"><rect x="-26.3" y="-31.36" width="4.6" height="59.32"/><rect x="-20.12" y="-35.73" width="1.5" height="68.5"/><rect x="-17.65" y="-39.54" width="4.6" height="76.49"/><rect x="-11.47" y="-43.92" width="1.5" height="85.67"/><rect x="-9" y="-47.73" width="4.6" height="22.99"/><rect x="-9" y="17.6" width="4.6" height="28.33"/><rect x="-2.82" y="-48.16" width="1.5" height="27.83"/><rect x="-2.82" y="12.93" width="1.5" height="33.58"/><rect x="-0.35" y="-44.84" width="4.6" height="28.33"/><rect x="-0.35" y="8.87" width="4.6" height="35.81"/><rect x="5.83" y="-41.02" width="1.5" height="28.91"/><rect x="5.83" y="4.2" width="1.5" height="38.36"/><rect x="8.3" y="-37.7" width="4.6" height="29.41"/><rect x="8.3" y="0.14" width="4.6" height="40.59"/><rect x="14.48" y="-33.88" width="1.5" height="71.19"/><rect x="16.95" y="-30.56" width="4.6" height="64.3"/><rect x="23.12" y="-26.74" width="1.5" height="56.37"/><rect x="25.6" y="-23.41" width="4.6" height="49.48"/></g><text class="wm" x="49" y="12">新华睿思RIS</text></g>
<g transform="translate(886.5 841.2) rotate(-30)"><g fill="#eeeef1"><rect x="-26.3" y="-31.36" width="4.6" height="59.32"/><rect x="-20.12" y="-35.73" width="1.5" height="68.5"/><rect x="-17.65" y="-39.54" width="4.6" height="76.49"/><rect x="-11.47" y="-43.92" width="1.5" height="85.67"/><rect x="-9" y="-47.73" width="4.6" height="22.99"/><rect x="-9" y="17.6" width="4.6" height="28.33"/><rect x="-2.82" y="-48.16" width="1.5" height="27.83"/><rect x="-2.82" y="12.93" width="1.5" height="33.58"/><rect x="-0.35" y="-44.84" width="4.6" height="28.33"/><rect x="-0.35" y="8.87" width="4.6" height="35.81"/><rect x="5.83" y="-41.02" width="1.5" height="28.91"/><rect x="5.83" y="4.2" width="1.5" height="38.36"/><rect x="8.3" y="-37.7" width="4.6" height="29.41"/><rect x="8.3" y="0.14" width="4.6" height="40.59"/><rect x="14.48" y="-33.88" width="1.5" height="71.19"/><rect x="16.95" y="-30.56" width="4.6" height="64.3"/><rect x="23.12" y="-26.74" width="1.5" height="56.37"/><rect x="25.6" y="-23.41" width="4.6" height="49.48"/></g><text class="wm" x="49" y="12">新华睿思RIS</text></g>
<g transform="translate(1276.5 841.2) rotate(-30)"><g fill="#eeeef1"><rect x="-26.3" y="-31.36" width="4.6" height="59.32"/><rect x="-20.12" y="-35.73" width="1.5" height="68.5"/><rect x="-17.65" y="-39.54" width="4.6" height="76.49"/><rect x="-11.47" y="-43.92" width="1.5" height="85.67"/><rect x="-9" y="-47.73" width="4.6" height="22.99"/><rect x="-9" y="17.6" width="4.6" height="28.33"/><rect x="-2.82" y="-48.16" width="1.5" height="27.83"/><rect x="-2.82" y="12.93" width="1.5" height="33.58"/><rect x="-0.35" y="-44.84" width="4.6" height="28.33"/><rect x="-0.35" y="8.87" width="4.6" height="35.81"/><rect x="5.83" y="-41.02" width="1.5" height="28.91"/><rect x="5.83" y="4.2" width="1.5" height="38.36"/><rect x="8.3" y="-37.7" width="4.6" height="29.41"/><rect x="8.3" y="0.14" width="4.6" height="40.59"/><rect x="14.48" y="-33.88" width="1.5" height="71.19"/><rect x="16.95" y="-30.56" width="4.6" height="64.3"/><rect x="23.12" y="-26.74" width="1.5" height="56.37"/><rect x="25.6" y="-23.41" width="4.6" height="49.48"/></g><text class="wm" x="49" y="12">新华睿思RIS</text></g>
<g transform="translate(1666.5 841.2) rotate(-30)"><g fill="#eeeef1"><rect x="-26.3" y="-31.36" width="4.6" height="59.32"/><rect x="-20.12" y="-35.73" width="1.5" height="68.5"/><rect x="-17.65" y="-39.54" width="4.6" height="76.49"/><rect x="-11.47" y="-43.92" width="1.5" height="85.67"/><rect x="-9" y="-47.73" width="4.6" height="22.99"/><rect x="-9" y="17.6" width="4.6" height="28.33"/><rect x="-2.82" y="-48.16" width="1.5" height="27.83"/><rect x="-2.82" y="12.93" width="1.5" height="33.58"/><rect x="-0.35" y="-44.84" width="4.6" height="28.33"/><rect x="-0.35" y="8.87" width="4.6" height="35.81"/><rect x="5.83" y="-41.02" width="1.5" height="28.91"/><rect x="5.83" y="4.2" width="1.5" height="38.36"/><rect x="8.3" y="-37.7" width="4.6" height="29.41"/><rect x="8.3" y="0.14" width="4.6" height="40.59"/><rect x="14.48" y="-33.88" width="1.5" height="71.19"/><rect x="16.95" y="-30.56" width="4.6" height="64.3"/><rect x="23.12" y="-26.74" width="1.5" height="56.37"/><rect x="25.6" y="-23.41" width="4.6" height="49.48"/></g><text class="wm" x="49" y="12">新华睿思RIS</text></g>
<g transform="translate(2056.5 841.2) rotate(-30)"><g fill="#eeeef1"><rect x="-26.3" y="-31.36" width="4.6" height="59.32"/><rect x="-20.12" y="-35.73" width="1.5" height="68.5"/><rect x="-17.65" y="-39.54" width="4.6" height="76.49"/><rect x="-11.47" y="-43.92" width="1.5" height="85.67"/><rect x="-9" y="-47.73" width="4.6" height="22.99"/><rect x="-9" y="17.6" width="4.6" height="28.33"/><rect x="-2.82" y="-48.16" width="1.5" height="27.83"/><rect x="-2.82" y="12.93" width="1.5" height="33.58"/><rect x="-0.35" y="-44.84" width="4.6" height="28.33"/><rect x="-0.35" y="8.87" width="4.6" height="35.81"/><rect x="5.83" y="-41.02" width="1.5" height="28.91"/><rect x="5.83" y="4.2" width="1.5" height="38.36"/><rect x="8.3" y="-37.7" width="4.6" height="29.41"/><rect x="8.3" y="0.14" width="4.6" height="40.59"/><rect x="14.48" y="-33.88" width="1.5" height="71.19"/><rect x="16.95" y="-30.56" width="4.6" height="64.3"/><rect x="23.12" y="-26.74" width="1.5" height="56.37"/><rect x="25.6" y="-23.41" width="4.6" height="49.48"/></g><text class="wm" x="49" y="12">新华睿思RIS</text></g>
<g transform="translate(2446.5 841.2) rotate(-30)"><g fill="#eeeef1"><rect x="-26.3" y="-31.36" width="4.6" height="59.32"/><rect x="-20.12" y="-35.73" width="1.5" height="68.5"/><rect x="-17.65" y="-39.54" width="4.6" height="76.49"/><rect x="-11.47" y="-43.92" width="1.5" height="85.67"/><rect x="-9" y="-47.73" width="4.6" height="22.99"/><rect x="-9" y="17.6" width="4.6" height="28.33"/><rect x="-2.82" y="-48.16" width="1.5" height="27.83"/><rect x="-2.82" y="12.93" width="1.5" height="33.58"/><rect x="-0.35" y="-44.84" width="4.6" height="28.33"/><rect x="-0.35" y="8.87" width="4.6" height="35.81"/><rect x="5.83" y="-41.02" width="1.5" height="28.91"/><rect x="5.83" y="4.2" width="1.5" height="38.36"/><rect x="8.3" y="-37.7" width="4.6" height="29.41"/><rect x="8.3" y="0.14" width="4.6" height="40.59"/><rect x="14.48" y="-33.88" width="1.5" height="71.19"/><rect x="16.95" y="-30.56" width="4.6" height="64.3"/><rect x="23.12" y="-26.74" width="1.5" height="56.37"/><rect x="25.6" y="-23.41" width="4.6" height="49.48"/></g><text class="wm" x="49" y="12">新华睿思RIS</text></g>
</g>
<path d="M2261 95.4 V575.6" stroke="#cfd8fd" stroke-width="3.2" fill="none"/>
<path d="M103.7 575.6 H2262.2" stroke="#a5b8fc" stroke-width="2.0" fill="none"/>
<path d="M103.7 496.1 H2262.2" stroke="#a5b8fc" stroke-width="2.0" fill="none"/>
<path d="M103.7 415.53 H2262.2" stroke="#a5b8fc" stroke-width="2.0" fill="none"/>
<path d="M103.7 335.5 H2262.2" stroke="#a5b8fc" stroke-width="2.0" fill="none"/>
<path d="M103.7 255.47 H2262.2" stroke="#a5b8fc" stroke-width="2.0" fill="none"/>
<path d="M103.7 175.43 H2262.2" stroke="#a5b8fc" stroke-width="2.0" fill="none"/>
<path d="M103.7 95.4 H2262.2" stroke="#a5b8fc" stroke-width="3.0" fill="none"/>
<path d="M103.7 93.9 V575.6" stroke="#a5b8fc" stroke-width="2.1" fill="none"/>
<text class="ax" text-anchor="end" x="89.2" y="582.4">0</text>
<text class="ax" text-anchor="end" x="89.2" y="502.9">10</text>
<text class="ax" text-anchor="end" x="89.2" y="422.33">20</text>
<text class="ax" text-anchor="end" x="89.2" y="342.3">30</text>
<text class="ax" text-anchor="end" x="89.2" y="262.27">40</text>
<text class="ax" text-anchor="end" x="89.2" y="182.23">50</text>
<text class="ax" text-anchor="end" x="89.2" y="102.2">60</text>
<text class="ax" text-anchor="middle" x="103.7" y="611.1">04-04</text>
<text class="ax" text-anchor="middle" x="411.89" y="611.1">04-05</text>
<text class="ax" text-anchor="middle" x="720.07" y="611.1">04-06</text>
<text class="ax" text-anchor="middle" x="1028.26" y="611.1">04-07</text>
<text class="ax" text-anchor="middle" x="1336.44" y="611.1">04-08</text>
<text class="ax" text-anchor="middle" x="1644.63" y="611.1">04-09</text>
<text class="ax" text-anchor="middle" x="1952.81" y="611.1">04-10</text>
<text class="ax" text-anchor="middle" x="2259" y="611.1">04-11</text>
<text class="nm" text-anchor="middle" x="103.2" y="58">信息量(条)</text>
<text class="nm" x="2289.5" y="584.2">时间</text>
<path d="M103.7 575.6 C103.7 575.6 257.79 575.6 411.89 575.6 C565.98 575.6 573.59 575.6 720.07 575.6 C881.77 537.81 889.7 526.89 1028.26 431.54 C1197.88 314.81 1197.17 151.42 1336.44 151.42 C1505.35 184.32 1453.45 420.02 1644.63 551.59 C1761.63 575.6 1798.49 569.59 1952.81 575.6 C2106.67 575.6 2261 575.6 2261 575.6 L2261 575.6 L103.7 575.6 Z" fill="url(#g0)" stroke="none"/>
<path d="M103.7 575.6 C103.7 575.6 257.79 575.6 411.89 575.6 C565.98 575.6 567.61 575.6 720.07 575.6 C875.79 559.42 882.56 566.44 1028.26 511.57 C1190.74 450.39 1187.72 343.5 1336.44 343.5 C1495.91 355.93 1475.29 495.83 1644.63 559.59 C1783.47 575.6 1798.62 571.6 1952.81 575.6 C2106.8 575.6 2261 575.6 2261 575.6 L2261 575.6 L103.7 575.6 Z" fill="url(#g1)" stroke="none"/>
<path d="M103.7 575.6 C103.7 575.6 257.79 575.6 411.89 575.6 C565.98 575.6 565.98 575.6 720.07 575.6 C874.16 575.6 874.27 575.6 1028.26 575.6 C1182.45 571.6 1182.35 559.59 1336.44 559.59 C1490.54 559.59 1490.43 571.6 1644.63 575.6 C1798.62 575.6 1798.72 575.6 1952.81 575.6 C2106.91 575.6 2261 575.6 2261 575.6 L2261 575.6 L103.7 575.6 Z" fill="url(#g3)" stroke="none"/>
<path d="M103.7 575.6 C103.7 575.6 257.79 575.6 411.89 575.6 C565.98 575.6 565.98 575.6 720.07 575.6 C874.16 575.6 874.19 575.6 1028.26 575.6 C1182.38 573.6 1182.32 569.6 1336.44 567.6 C1490.51 567.6 1490.56 567.6 1644.63 567.6 C1798.75 569.6 1798.7 573.6 1952.81 575.6 C2106.88 575.6 2261 575.6 2261 575.6 L2261 575.6 L103.7 575.6 Z" fill="url(#g4)" stroke="none"/>
<path d="M103.7 575.6 C103.7 575.6 257.79 575.6 411.89 575.6 C565.98 575.6 568.49 575.6 720.07 575.6 C876.68 555.27 873.7 533.7 1028.26 495.57 C1181.88 457.67 1188.69 423.54 1336.44 423.54 C1496.88 444.37 1482.15 535.52 1644.63 575.6 C1790.34 575.6 1798.72 575.6 1952.81 575.6 C2106.91 575.6 2261 575.6 2261 575.6 L2261 575.6 L103.7 575.6 Z" fill="url(#g5)" stroke="none"/>
<path d="M103.7 575.6 C103.7 575.6 257.79 575.6 411.89 575.6 C565.98 575.6 565.98 575.6 720.07 575.6 C874.16 575.6 874.27 575.6 1028.26 575.6 C1182.45 571.6 1182.35 559.59 1336.44 559.59 C1490.54 559.59 1490.43 571.6 1644.63 575.6 C1798.62 575.6 1798.72 575.6 1952.81 575.6 C2106.91 575.6 2261 575.6 2261 575.6 L2261 575.6 L103.7 575.6 Z" fill="url(#g6)" stroke="none"/>
<path d="M103.7 575.6 H2261" stroke="#63b6c4" stroke-opacity="0.75" stroke-width="7.4" fill="none"/>
<path d="M103.7 575.6 C103.7 575.6 257.79 575.6 411.89 575.6 C565.98 575.6 573.59 575.6 720.07 575.6 C881.77 537.81 889.7 526.89 1028.26 431.54 C1197.88 314.81 1197.17 151.42 1336.44 151.42 C1505.35 184.32 1453.45 420.02 1644.63 551.59 C1761.63 575.6 1798.49 569.59 1952.81 575.6 C2106.67 575.6 2261 575.6 2261 575.6" fill="none" stroke="#f4505e" stroke-width="3.4" stroke-linejoin="round"/>
<path d="M103.7 575.6 C103.7 575.6 257.79 575.6 411.89 575.6 C565.98 575.6 567.61 575.6 720.07 575.6 C875.79 559.42 882.56 566.44 1028.26 511.57 C1190.74 450.39 1187.72 343.5 1336.44 343.5 C1495.91 355.93 1475.29 495.83 1644.63 559.59 C1783.47 575.6 1798.62 571.6 1952.81 575.6 C2106.8 575.6 2261 575.6 2261 575.6" fill="none" stroke="#083cdc" stroke-width="3.4" stroke-linejoin="round"/>
<path d="M103.7 575.6 C103.7 575.6 257.79 575.6 411.89 575.6 C565.98 575.6 565.98 575.6 720.07 575.6 C874.16 575.6 874.16 575.6 1028.26 575.6 C1182.35 575.6 1182.35 575.6 1336.44 575.6 C1490.54 575.6 1490.54 575.6 1644.63 575.6 C1798.72 575.6 1798.72 575.6 1952.81 575.6 C2106.91 575.6 2261 575.6 2261 575.6" fill="none" stroke="#007b8a" stroke-width="3.4" stroke-linejoin="round"/>
<path d="M103.7 575.6 C103.7 575.6 257.79 575.6 411.89 575.6 C565.98 575.6 565.98 575.6 720.07 575.6 C874.16 575.6 874.27 575.6 1028.26 575.6 C1182.45 571.6 1182.35 559.59 1336.44 559.59 C1490.54 559.59 1490.43 571.6 1644.63 575.6 C1798.62 575.6 1798.72 575.6 1952.81 575.6 C2106.91 575.6 2261 575.6 2261 575.6" fill="none" stroke="#ee6600" stroke-width="3.4" stroke-linejoin="round"/>
<path d="M103.7 575.6 C103.7 575.6 257.79 575.6 411.89 575.6 C565.98 575.6 565.98 575.6 720.07 575.6 C874.16 575.6 874.19 575.6 1028.26 575.6 C1182.38 573.6 1182.32 569.6 1336.44 567.6 C1490.51 567.6 1490.56 567.6 1644.63 567.6 C1798.75 569.6 1798.7 573.6 1952.81 575.6 C2106.88 575.6 2261 575.6 2261 575.6" fill="none" stroke="#2dba6e" stroke-width="3.4" stroke-linejoin="round"/>
<path d="M103.7 575.6 C103.7 575.6 257.79 575.6 411.89 575.6 C565.98 575.6 568.49 575.6 720.07 575.6 C876.68 555.27 873.7 533.7 1028.26 495.57 C1181.88 457.67 1188.69 423.54 1336.44 423.54 C1496.88 444.37 1482.15 535.52 1644.63 575.6 C1790.34 575.6 1798.72 575.6 1952.81 575.6 C2106.91 575.6 2261 575.6 2261 575.6" fill="none" stroke="#0a84ff" stroke-width="3.4" stroke-linejoin="round"/>
<path d="M103.7 575.6 C103.7 575.6 257.79 575.6 411.89 575.6 C565.98 575.6 565.98 575.6 720.07 575.6 C874.16 575.6 874.27 575.6 1028.26 575.6 C1182.45 571.6 1182.35 559.59 1336.44 559.59 C1490.54 559.59 1490.43 571.6 1644.63 575.6 C1798.62 575.6 1798.72 575.6 1952.81 575.6 C2106.91 575.6 2261 575.6 2261 575.6" fill="none" stroke="#ef9400" stroke-width="3.4" stroke-linejoin="round"/>
<circle cx="103.7" cy="575.6" r="9.5" fill="#f4505e" stroke="#fff" stroke-width="2"/>
<circle cx="411.89" cy="575.6" r="9.5" fill="#f4505e" stroke="#fff" stroke-width="2"/>
<circle cx="720.07" cy="575.6" r="9.5" fill="#f4505e" stroke="#fff" stroke-width="2"/>
<circle cx="1028.26" cy="431.54" r="9.5" fill="#f4505e" stroke="#fff" stroke-width="2"/>
<circle cx="1336.44" cy="151.42" r="9.5" fill="#f4505e" stroke="#fff" stroke-width="2"/>
<circle cx="1644.63" cy="551.59" r="9.5" fill="#f4505e" stroke="#fff" stroke-width="2"/>
<circle cx="1952.81" cy="575.6" r="9.5" fill="#f4505e" stroke="#fff" stroke-width="2"/>
<circle cx="2261" cy="575.6" r="9.5" fill="#f4505e" stroke="#fff" stroke-width="2"/>
<circle cx="103.7" cy="575.6" r="9.5" fill="#083cdc" stroke="#fff" stroke-width="2"/>
<circle cx="411.89" cy="575.6" r="9.5" fill="#083cdc" stroke="#fff" stroke-width="2"/>
<circle cx="720.07" cy="575.6" r="9.5" fill="#083cdc" stroke="#fff" stroke-width="2"/>
<circle cx="1028.26" cy="511.57" r="9.5" fill="#083cdc" stroke="#fff" stroke-width="2"/>
<circle cx="1336.44" cy="343.5" r="9.5" fill="#083cdc" stroke="#fff" stroke-width="2"/>
<circle cx="1644.63" cy="559.59" r="9.5" fill="#083cdc" stroke="#fff" stroke-width="2"/>
<circle cx="1952.81" cy="575.6" r="9.5" fill="#083cdc" stroke="#fff" stroke-width="2"/>
<circle cx="2261" cy="575.6" r="9.5" fill="#083cdc" stroke="#fff" stroke-width="2"/>
<circle cx="103.7" cy="575.6" r="9.5" fill="#007b8a" stroke="#fff" stroke-width="2"/>
<circle cx="411.89" cy="575.6" r="9.5" fill="#007b8a" stroke="#fff" stroke-width="2"/>
<circle cx="720.07" cy="575.6" r="9.5" fill="#007b8a" stroke="#fff" stroke-width="2"/>
<circle cx="1028.26" cy="575.6" r="9.5" fill="#007b8a" stroke="#fff" stroke-width="2"/>
<circle cx="1336.44" cy="575.6" r="9.5" fill="#007b8a" stroke="#fff" stroke-width="2"/>
<circle cx="1644.63" cy="575.6" r="9.5" fill="#007b8a" stroke="#fff" stroke-width="2"/>
<circle cx="1952.81" cy="575.6" r="9.5" fill="#007b8a" stroke="#fff" stroke-width="2"/>
<circle cx="2261" cy="575.6" r="9.5" fill="#007b8a" stroke="#fff" stroke-width="2"/>
<circle cx="103.7" cy="575.6" r="9.5" fill="#ee6600" stroke="#fff" stroke-width="2"/>
<circle cx="411.89" cy="575.6" r="9.5" fill="#ee6600" stroke="#fff" stroke-width="2"/>
<circle cx="720.07" cy="575.6" r="9.5" fill="#ee6600" stroke="#fff" stroke-width="2"/>
<circle cx="1028.26" cy="575.6" r="9.5" fill="#ee6600" stroke="#fff" stroke-width="2"/>
<circle cx="1336.44" cy="559.59" r="9.5" fill="#ee6600" stroke="#fff" stroke-width="2"/>
<circle cx="1644.63" cy="575.6" r="9.5" fill="#ee6600" stroke="#fff" stroke-width="2"/>
<circle cx="1952.81" cy="575.6" r="9.5" fill="#ee6600" stroke="#fff" stroke-width="2"/>
<circle cx="2261" cy="575.6" r="9.5" fill="#ee6600" stroke="#fff" stroke-width="2"/>
<circle cx="103.7" cy="575.6" r="9.5" fill="#2dba6e" stroke="#fff" stroke-width="2"/>
<circle cx="411.89" cy="575.6" r="9.5" fill="#2dba6e" stroke="#fff" stroke-width="2"/>
<circle cx="720.07" cy="575.6" r="9.5" fill="#2dba6e" stroke="#fff" stroke-width="2"/>
<circle cx="1028.26" cy="575.6" r="9.5" fill="#2dba6e" stroke="#fff" stroke-width="2"/>
<circle cx="1336.44" cy="567.6" r="9.5" fill="#2dba6e" stroke="#fff" stroke-width="2"/>
<circle cx="1644.63" cy="567.6" r="9.5" fill="#2dba6e" stroke="#fff" stroke-width="2"/>
<circle cx="1952.81" cy="575.6" r="9.5" fill="#2dba6e" stroke="#fff" stroke-width="2"/>
<circle cx="2261" cy="575.6" r="9.5" fill="#2dba6e" stroke="#fff" stroke-width="2"/>
<circle cx="103.7" cy="575.6" r="9.5" fill="#0a84ff" stroke="#fff" stroke-width="2"/>
<circle cx="411.89" cy="575.6" r="9.5" fill="#0a84ff" stroke="#fff" stroke-width="2"/>
<circle cx="720.07" cy="575.6" r="9.5" fill="#0a84ff" stroke="#fff" stroke-width="2"/>
<circle cx="1028.26" cy="495.57" r="9.5" fill="#0a84ff" stroke="#fff" stroke-width="2"/>
<circle cx="1336.44" cy="423.54" r="9.5" fill="#0a84ff" stroke="#fff" stroke-width="2"/>
<circle cx="1644.63" cy="575.6" r="9.5" fill="#0a84ff" stroke="#fff" stroke-width="2"/>
<circle cx="1952.81" cy="575.6" r="9.5" fill="#0a84ff" stroke="#fff" stroke-width="2"/>
<circle cx="2261" cy="575.6" r="9.5" fill="#0a84ff" stroke="#fff" stroke-width="2"/>
<circle cx="103.7" cy="575.6" r="9.5" fill="#ef9400" stroke="#fff" stroke-width="2"/>
<circle cx="411.89" cy="575.6" r="9.5" fill="#ef9400" stroke="#fff" stroke-width="2"/>
<circle cx="720.07" cy="575.6" r="9.5" fill="#ef9400" stroke="#fff" stroke-width="2"/>
<circle cx="1028.26" cy="575.6" r="9.5" fill="#ef9400" stroke="#fff" stroke-width="2"/>
<circle cx="1336.44" cy="559.59" r="9.5" fill="#ef9400" stroke="#fff" stroke-width="2"/>
<circle cx="1644.63" cy="575.6" r="9.5" fill="#ef9400" stroke="#fff" stroke-width="2"/>
<circle cx="1952.81" cy="575.6" r="9.5" fill="#ef9400" stroke="#fff" stroke-width="2"/>
<circle cx="2261" cy="575.6" r="9.5" fill="#ef9400" stroke="#fff" stroke-width="2"/>
<path d="M1307.75 103.85 A31.29 31.29 0 1 1 1365.14 103.85 C1357.66 121.07 1336.44 135.52 1336.44 157.42 C1336.44 135.52 1315.23 121.07 1307.75 103.85 Z" fill="#f4505e"/>
<text class="pl" x="1336.44" y="103.82">53</text>
<path d="M1307.75 295.93 A31.29 31.29 0 1 1 1365.14 295.93 C1357.66 313.15 1336.44 327.6 1336.44 349.5 C1336.44 327.6 1315.23 313.15 1307.75 295.93 Z" fill="#083cdc"/>
<text class="pl" x="1336.44" y="295.9">29</text>
<path d="M75 528.03 A31.29 31.29 0 1 1 132.4 528.03 C124.92 545.25 103.7 559.7 103.7 581.6 C103.7 559.7 82.48 545.25 75 528.03 Z" fill="#007b8a"/>
<text class="pl" x="103.7" y="528">0</text>
<path d="M1307.75 512.02 A31.29 31.29 0 1 1 1365.14 512.02 C1357.66 529.24 1336.44 543.69 1336.44 565.59 C1336.44 543.69 1315.23 529.24 1307.75 512.02 Z" fill="#ee6600"/>
<text class="pl" x="1336.44" y="511.99">2</text>
<path d="M1307.75 520.03 A31.29 31.29 0 1 1 1365.14 520.03 C1357.66 537.25 1336.44 551.69 1336.44 573.6 C1336.44 551.69 1315.23 537.25 1307.75 520.03 Z" fill="#2dba6e"/>
<text class="pl" x="1336.44" y="520">1</text>
<path d="M1307.75 375.97 A31.29 31.29 0 1 1 1365.14 375.97 C1357.66 393.19 1336.44 407.63 1336.44 429.54 C1336.44 407.63 1315.23 393.19 1307.75 375.97 Z" fill="#0a84ff"/>
<text class="pl" x="1336.44" y="375.94">19</text>
<path d="M1307.75 512.02 A31.29 31.29 0 1 1 1365.14 512.02 C1357.66 529.24 1336.44 543.69 1336.44 565.59 C1336.44 543.69 1315.23 529.24 1307.75 512.02 Z" fill="#ef9400"/>
<text class="pl" x="1336.44" y="511.99">2</text>
<path d="M653.7 676.3 H701.7" stroke="#f4505e" stroke-opacity="0.5" stroke-width="4.4" fill="none"/>
<circle cx="677.7" cy="676.3" r="10.9" fill="#f4505e"/>
<text class="lg" x="722.3" y="686.5">总量</text>
<path d="M811.8 676.3 H859.8" stroke="#083cdc" stroke-opacity="0.5" stroke-width="4.4" fill="none"/>
<circle cx="835.8" cy="676.3" r="10.9" fill="#083cdc"/>
<text class="lg" x="880.4" y="686.5">新闻</text>
<path d="M970.2 676.3 H1018.2" stroke="#007b8a" stroke-opacity="0.5" stroke-width="4.4" fill="none"/>
<circle cx="994.2" cy="676.3" r="10.9" fill="#007b8a"/>
<text class="lg" x="1038.8" y="686.5">论坛</text>
<path d="M1129.2 676.3 H1177.2" stroke="#ee6600" stroke-opacity="0.5" stroke-width="4.4" fill="none"/>
<circle cx="1153.2" cy="676.3" r="10.9" fill="#ee6600"/>
<text class="lg" x="1197.8" y="686.5">微博</text>
<path d="M1287.6 676.3 H1335.6" stroke="#2dba6e" stroke-opacity="0.5" stroke-width="4.4" fill="none"/>
<circle cx="1311.6" cy="676.3" r="10.9" fill="#2dba6e"/>
<text class="lg" x="1356.2" y="686.5">微信</text>
<path d="M1446.3 676.3 H1494.3" stroke="#0a84ff" stroke-opacity="0.5" stroke-width="4.4" fill="none"/>
<circle cx="1470.3" cy="676.3" r="10.9" fill="#0a84ff"/>
<text class="lg" x="1517.1" y="686.5" textLength="65.5" lengthAdjust="spacingAndGlyphs">APP</text>
<path d="M1602.4 676.3 H1650.4" stroke="#ef9400" stroke-opacity="0.5" stroke-width="4.4" fill="none"/>
<circle cx="1626.4" cy="676.3" r="10.9" fill="#ef9400"/>
<text class="lg" x="1671" y="686.5">平媒</text>
</svg></body></html>
